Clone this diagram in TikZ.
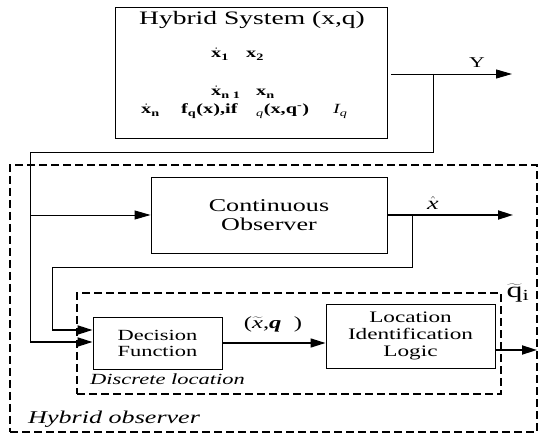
\documentclass[tikz,border=0pt]{standalone}
\usepackage{fontspec}
\setmainfont{Liberation Serif}[FakeStretch=1.45]
\usetikzlibrary{arrows.meta}
\tikzset{
  blockbox/.style={draw, line width=0.9pt, inner sep=0pt, align=center},
  frame/.style={draw, line width=1.9pt, dash pattern=on 8pt off 4pt, inner sep=0pt},
  wire/.style={line width=0.9pt},
  flow/.style={line width=0.9pt, -{Triangle[length=16pt,width=9pt]}},
  boldflow/.style={line width=1.8pt, -{Triangle[length=15pt,width=9pt]}},
  eq/.style={font=\fontsize{14}{15}\selectfont\bfseries, inner sep=0pt, anchor=base west},
  lbl/.style={inner sep=0pt}
}
\newcommand{\dx}{\ensuremath{\dot{\hbox{x}}}}
\begin{document}
\begin{tikzpicture}[x=1pt,y=-1pt]
\useasboundingbox (0,0) rectangle (539,435);

% dashed frames
\node[frame, minimum width=527pt, minimum height=267pt] (hobs) at (273.5,298.5) {};
\node[frame, minimum width=424pt, minimum height=101pt] (dloc) at (289,343.5) {};

% plant
\node[blockbox, minimum width=272pt, minimum height=131pt] (hs) at (251,72.5) {};
\node[lbl, font=\fontsize{19}{20}\selectfont] (title) at (252,20) {Hybrid System (x,q)};
\node[eq] (e1a) at (211,58) {\dx\textsubscript{1}};
\node[eq] (e1b) at (246,58) {x\textsubscript{2}};
\node[eq] (e2a) at (211,96) {\dx\textsubscript{n\ 1}};
\node[eq] (e2b) at (256,96) {x\textsubscript{n}};
\node[eq] (e3a) at (141,114) {\dx\textsubscript{n}};
\node[eq] (e3b) at (181,114) {f\textsubscript{q}(x),if};
\node[eq] (e3c) at (256,114) {\textsubscript{\mdseries\itshape q}(x,q\textsuperscript{-})};
\node[eq] (e3d) at (333,114) {\mdseries\itshape I\textsubscript{q}};

% observer blocks
\node[blockbox, minimum width=236pt, minimum height=76pt, font=\fontsize{18}{19}\selectfont] (co) at (269,215) {Continuous\\Observer};
\node[blockbox, minimum width=129pt, minimum height=52pt, font=\fontsize{15.5}{16}\selectfont] (df) at (157.5,343) {Decision\\Function};
\node[blockbox, minimum width=169pt, minimum height=64pt, font=\fontsize{16}{17}\selectfont] (lil) at (410.5,336) {Location\\Identification\\Logic};

% measured output and its feedback
\coordinate (ys) at (391,74);
\coordinate (yend) at (512,74);
\coordinate (ytap) at (433,74);
\coordinate (ybend) at (433,152);
\coordinate (lcorner) at (30,152);
\coordinate (ltap) at (30,215);
\coordinate (lfoot) at (30,342);
\draw[flow] (ys) -- (yend);
\draw[wire] (ytap) -- (ybend) -- (lcorner) -- (lfoot);
\draw[flow] (ltap) -- (co.west);
\draw[boldflow] (lfoot) -- (df.west |- lfoot);

% estimated state and its feedback
\coordinate (xend) at (513,215);
\coordinate (xtap) at (412,215);
\coordinate (xbend) at (412,267);
\coordinate (fcorner) at (52,267);
\coordinate (ffoot) at (52,330);
\draw[boldflow] (co.east) -- (xend);
\draw[wire] (xtap) -- (xbend) -- (fcorner) -- (ffoot);
\draw[boldflow] (ffoot) -- (df.west |- ffoot);

% discrete chain
\coordinate (qout) at (537,350);
\draw[line width=1.5pt, -{Triangle[length=15pt,width=9pt]}] (df.east) -- (lil.west |- df.east);
\draw[boldflow] (lil.east |- qout) -- (qout);

% labels
\node[lbl, font=\fontsize{15}{15}\selectfont] (ylab) at (477,63) {Y};
\node[lbl, font=\fontsize{18}{18}\selectfont] (xhat) at (433,203) {$\hat{\hbox{\itshape x}}$};
\node[lbl, font=\fontsize{17}{17}\selectfont] (xq) at (273,324) {($\widetilde{\hbox{\itshape x}}$,\textbf{\itshape q}\ \ )};
\node[lbl, font=\fontsize{22}{22}\selectfont] (qi) at (518,293) {$\widetilde{\hbox{q}}$\textsubscript{i}};
\node[lbl, anchor=base west, font=\itshape\fontsize{15.5}{16}\selectfont] (dlab) at (90,385) {Discrete location};
\node[lbl, anchor=base west, font=\itshape\fontsize{18}{18}\selectfont] (hlab) at (28,424) {Hybrid observer};
\end{tikzpicture}
\end{document}
